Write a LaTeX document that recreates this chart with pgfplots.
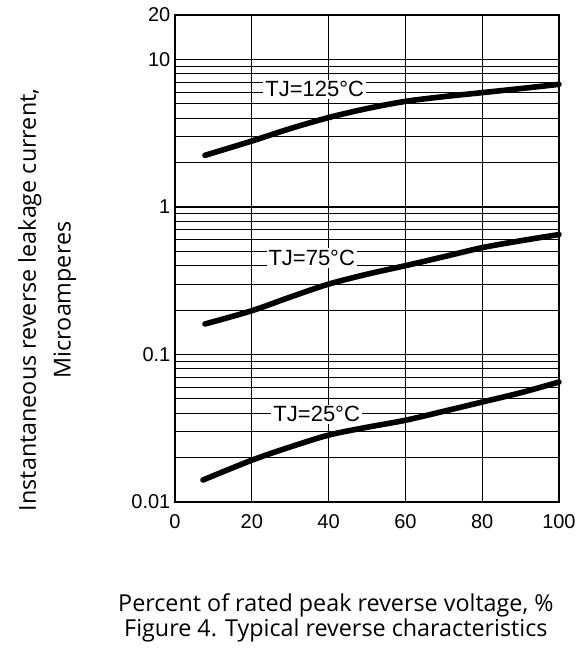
\documentclass[border=0pt]{standalone}
\usepackage{pgfplots}
\pgfplotsset{compat=1.18}
\usepackage{fontspec}
\setmainfont{Liberation Sans}
\newfontfamily\labelfont{Open Sans}

\begin{document}
\begin{tikzpicture}
\begin{axis}[
  scale only axis, width=288pt, height=365.25pt,
  ymode=log, xmin=0, xmax=100, ymin=0.01, ymax=20,
  xtick={0,20,40,60,80,100},
  ytick={0.01,0.1,1,10,20}, yticklabels={0.01,0.1,1,10,20},
  minor ytick={0.02,0.03,0.04,0.05,0.06,0.07,0.08,0.09,0.2,0.3,0.4,0.5,0.6,0.7,0.8,0.9,2,3,4,5,6,7,8,9},
  grid=both, major grid style={black, line width=0.8pt}, minor grid style={black, line width=0.8pt},
  axis line style={black, line width=0.9pt},
  major tick length=0pt, minor tick length=0pt,
  tick label style={font=\fontsize{15}{17}\selectfont},
  /pgf/number format/assume math mode=true,
  xticklabel style={yshift=-6pt},
  clip=false,
]
% TJ = 125 C
\addplot[black, line width=4.2pt, line cap=round, smooth] coordinates {
 (7.8,2.24) (20,2.8) (30,3.4) (40,4.04) (50,4.65) (60,5.2) (70,5.6) (80,5.96) (90,6.35) (100,6.78)};
% TJ = 75 C
\addplot[black, line width=4.2pt, line cap=round, smooth] coordinates {
 (7.8,0.161) (20,0.198) (30,0.245) (40,0.30) (50,0.35) (60,0.40) (70,0.46) (80,0.53) (90,0.59) (100,0.65)};
% TJ = 25 C
\addplot[black, line width=4.2pt, line cap=round, smooth] coordinates {
 (7.3,0.0141) (20,0.0192) (30,0.0236) (40,0.0284) (50,0.0321) (60,0.0358) (70,0.0412) (80,0.0476) (90,0.055) (100,0.065)};

\node[fill=white, inner sep=1.5pt, font=\fontsize{16.5}{18}\selectfont] at (axis cs:36.4,6.27) {TJ=125°C};
\node[fill=white, inner sep=1.5pt, font=\fontsize{16.5}{18}\selectfont] at (axis cs:35.6,0.452) {TJ=75°C};
\node[fill=white, inner sep=1.5pt, font=\fontsize{16.5}{18}\selectfont] at (axis cs:36.9,0.0393) {TJ=25°C};

\node[rotate=90, align=center, font=\labelfont\fontsize{17.5}{26}\selectfont] at (rel axis cs:-0.333,0.415)
 {Instantaneous reverse leakage current,\\Microamperes};
\node[align=center, font=\labelfont\fontsize{17.5}{15.5}\selectfont] at (rel axis cs:0.419,-0.238)
 {Percent of rated peak reverse voltage, \%\\Figure 4. Typical reverse characteristics};

\path (rel axis cs:-0.456,-0.302) rectangle (rel axis cs:1.065,1.031);
\end{axis}
\end{tikzpicture}
\end{document}
